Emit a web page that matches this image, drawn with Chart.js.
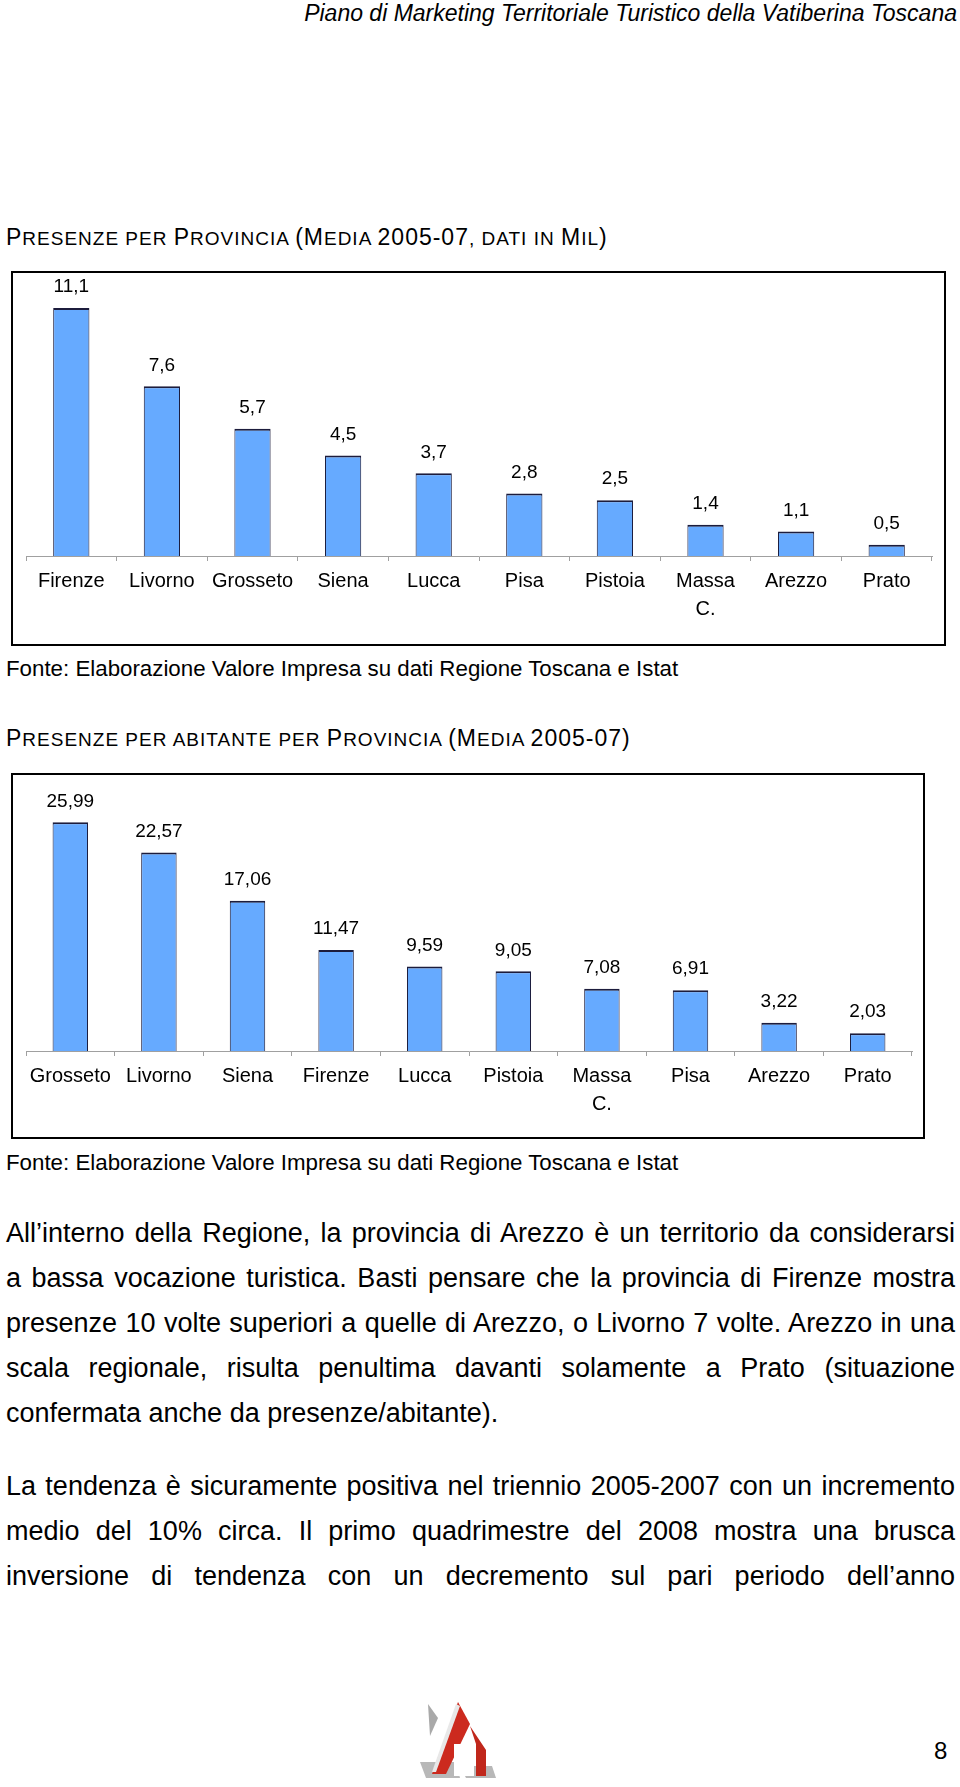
<!DOCTYPE html>
<html>
<head>
<meta charset="utf-8">
<script src="https://cdn.jsdelivr.net/npm/chart.js@4.4.1/dist/chart.umd.min.js"></script>
<style>
  html, body { margin: 0; padding: 0; background: #fff; }
  body { width: 960px; height: 1787px; position: relative; overflow: hidden;
         font-family: "Liberation Sans", Arial, sans-serif; color: #000; }
  .abs { position: absolute; }
  .header { right: 3px; top: 0px; font-size: 23px; font-style: italic; white-space: nowrap; }
  .title { left: 6px; font-size: 23px; white-space: nowrap; letter-spacing: 1px; }
  .title .sc { font-size: 19px; }
  .fonte { left: 6px; font-size: 22.3px; white-space: nowrap; }
  .box { border: 2px solid #000; box-sizing: border-box; }
  .para { left: 6px; width: 949px; font-size: 27px; line-height: 45px; margin: 0; }
  .para span { display: block; text-align: justify; text-align-last: justify; }
  .para span.end { text-align-last: left; }
  .page { left: 934px; top: 1737px; font-size: 24px; }
</style>
</head>
<body>
<div class="abs header">Piano di Marketing Territoriale Turistico della Vatiberina Toscana</div>

<div class="abs title" style="top:224px">P<span class="sc">RESENZE PER </span>P<span class="sc">ROVINCIA </span>(M<span class="sc">EDIA </span>2005-07<span class="sc">, DATI IN </span>M<span class="sc">IL</span>)</div>
<div class="abs box" style="left:11px; top:271px; width:935px; height:375px"></div>
<canvas id="chart1" class="abs" style="left:13px; top:273px" width="931" height="371"></canvas>
<div class="abs fonte" style="top:656px">Fonte: Elaborazione Valore Impresa su dati Regione Toscana e Istat</div>

<div class="abs title" style="top:725px">P<span class="sc">RESENZE PER ABITANTE PER </span>P<span class="sc">ROVINCIA </span>(M<span class="sc">EDIA </span>2005-07)</div>
<div class="abs box" style="left:11px; top:773px; width:914px; height:366px"></div>
<canvas id="chart2" class="abs" style="left:13px; top:775px" width="910" height="362"></canvas>
<div class="abs fonte" style="top:1150px">Fonte: Elaborazione Valore Impresa su dati Regione Toscana e Istat</div>

<p class="abs para" style="top:1211px">
  <span>All’interno della Regione, la provincia di Arezzo è un territorio da considerarsi</span>
  <span>a bassa vocazione turistica. Basti pensare che la provincia di Firenze mostra</span>
  <span>presenze 10 volte superiori a quelle di Arezzo, o Livorno 7 volte. Arezzo in una</span>
  <span>scala regionale, risulta penultima davanti solamente a Prato (situazione</span>
  <span class="end">confermata anche da presenze/abitante).</span>
</p>
<p class="abs para" style="top:1464px">
  <span>La tendenza è sicuramente positiva nel triennio 2005-2007 con un incremento</span>
  <span>medio del 10% circa. Il primo quadrimestre del 2008 mostra una brusca</span>
  <span>inversione di tendenza con un decremento sul pari periodo dell’anno</span>
</p>

<svg class="abs" style="left:416px; top:1700px" width="82" height="80" viewBox="0 0 82 80">
  <polygon points="4,62 40,62 44,78 10,78" fill="#b8b8b8"/>
  <polygon points="44,66 76,66 80,78 50,78" fill="#b8b8b8"/>
  <polygon points="12,4 22,18 14,36" fill="#a9a9a9"/>
  <polygon points="42,2 54,24 30,74 16,74" fill="#cc2a1e"/>
  <polygon points="40,4 44,6 20,72 16,72" fill="#e8e8e8"/>
  <polygon points="54,26 70,50 70,76 60,76 60,44" fill="#c0271b"/>
  <rect x="38" y="44" width="20" height="32" fill="#fff"/>
</svg>
<div class="abs page">8</div>

<script>
const labels1 = ['Firenze', 'Livorno', 'Grosseto', 'Siena', 'Lucca', 'Pisa', 'Pistoia', ['Massa', 'C.'], 'Arezzo', 'Prato'];
const presenze = [11.1, 7.6, 5.7, 4.5, 3.7, 2.8, 2.5, 1.4, 1.1, 0.5];

const labels2 = ['Grosseto', 'Livorno', 'Siena', 'Firenze', 'Lucca', 'Pistoia', ['Massa', 'C.'], 'Pisa', 'Arezzo', 'Prato'];
const presenzeAbitante = [25.99, 22.57, 17.06, 11.47, 9.59, 9.05, 7.08, 6.91, 3.22, 2.03];

const barFill = '#66aaff';
const barEdge = '#1c1c3c';
const axisGray = '#a0a0a0';
const font = '"Liberation Sans", Arial, sans-serif';

// writes the value above each bar, with decimal comma
const valueLabels = {
    id: 'valueLabels',
    afterDatasetsDraw(chart) {
        const ctx = chart.ctx;
        const meta = chart.getDatasetMeta(0);
        const values = chart.data.datasets[0].data;
        ctx.save();
        ctx.font = '19px ' + font;
        ctx.fillStyle = '#000';
        ctx.textAlign = 'center';
        ctx.textBaseline = 'middle';
        meta.data.forEach((bar, i) => {
            ctx.fillText(String(values[i]).replace('.', ','), bar.x, bar.y - 21);
        });
        ctx.restore();
    }
};

function makeChart(id, labels, values, yMax, axisHeight, padding) {
    return new Chart(document.getElementById(id), {
        type: 'bar',
        data: {
            labels: labels,
            datasets: [{
                data: values,
                backgroundColor: barFill,
                borderColor: barEdge,
                borderWidth: { top: 2, left: 1, right: 1, bottom: 0 },
                borderSkipped: false,
                categoryPercentage: 1,
                barPercentage: 0.4
            }]
        },
        options: {
            responsive: false,
            animation: false,
            devicePixelRatio: 1,
            layout: { padding: padding },
            plugins: { legend: { display: false }, tooltip: { enabled: false } },
            scales: {
                x: {
                    grid: { drawOnChartArea: false, drawTicks: true, tickLength: 5, color: axisGray, offset: true },
                    border: { color: axisGray, width: 1 },
                    ticks: {
                        color: '#000',
                        font: { family: font, size: 20, lineHeight: 1.4 },
                        padding: 6,
                        maxRotation: 0,
                        autoSkip: false
                    },
                    afterFit(scale) { scale.height = axisHeight; }
                },
                y: { display: false, min: 0, max: yMax }
            }
        },
        plugins: [valueLabels]
    });
}

makeChart('chart1', labels1, presenze, 12, 88, { left: 13, right: 12, top: 15, bottom: 0 });
makeChart('chart2', labels2, presenzeAbitante, 30, 86, { left: 13, right: 11, top: 12, bottom: 0 });
</script>
</body>
</html>
